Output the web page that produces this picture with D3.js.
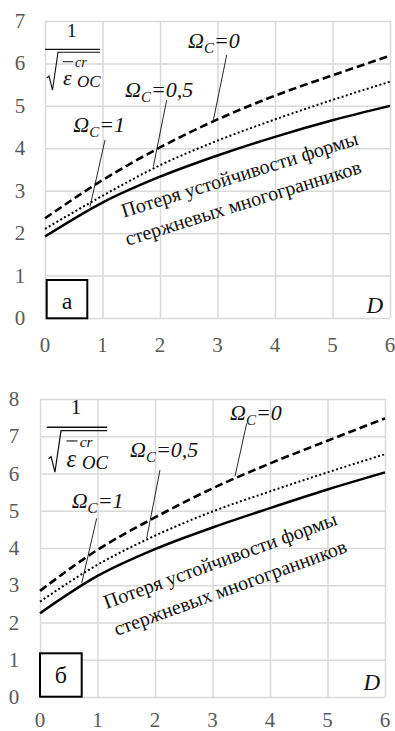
<!DOCTYPE html>
<html><head><meta charset="utf-8">
<script src="https://cdn.jsdelivr.net/npm/d3@7"></script>
</head><body><svg id="c" width="395" height="731"></svg>
<script>
// ---- data ----
const D_VALUES = [0, 1, 2, 3, 4, 5, 6];
const X_TICKS = [0, 1, 2, 3, 4, 5, 6];
const A_Y_TICKS = [0, 1, 2, 3, 4, 5, 6, 7];
const B_Y_TICKS = [0, 1, 2, 3, 4, 5, 6, 7, 8];
// panel а
const A_OMEGA_0  = [2.35, 3.25, 4.02, 4.68, 5.24, 5.72, 6.18];
const A_OMEGA_05 = [2.10, 2.88, 3.60, 4.18, 4.68, 5.14, 5.57];
const A_OMEGA_1  = [1.92, 2.72, 3.33, 3.83, 4.27, 4.66, 5.00];
// panel б
const B_OMEGA_0  = [2.85, 3.95, 4.82, 5.60, 6.27, 6.88, 7.48];
const B_OMEGA_05 = [2.56, 3.55, 4.33, 4.98, 5.52, 6.03, 6.52];
const B_OMEGA_1  = [2.25, 3.25, 3.97, 4.55, 5.07, 5.57, 6.03];
const SERIES_SUFFIX = ["=0", "=0,5", "=1"];
const PANEL_LETTERS = ["а", "б"];
const NOTE_LINES = ["Потеря устойчивости формы", "стержневых многогранников"];
const X_TITLE = "D";

document.body.style.margin = "0";
document.getElementById("c").style.display = "block";
const FONT = "Times New Roman";
const svg = d3.select("#c");
const shapes = svg.append("g");

// every text is a direct child of the svg root
function txt(size, italic) {
  const t = svg.append("text").attr("font-family", FONT).attr("font-size", size);
  t.node().style.fontFamily = "'Times New Roman', 'Liberation Serif'";
  if (italic) t.attr("font-style", "italic");
  return t;
}

function omegaLabel(xp, yp, suffix) {
  const t = txt(22, true).attr("x", xp).attr("y", yp).attr("fill", "#111");
  t.append("tspan").text("Ω");
  t.append("tspan").attr("dy", 5).attr("font-size", 15).text("C");
  t.append("tspan").attr("dy", -5).text(suffix);
}

function fraction(tx, ty, s) {
  const tr = `translate(${tx},${ty}) scale(${s})`;
  const f = shapes.append("g").attr("transform", tr);
  f.append("line").attr("x1", 0).attr("x2", 55).attr("y1", 0).attr("y2", 0).attr("stroke", "#111").attr("stroke-width", 1.3);
  f.append("path").attr("d", "M1.7,28.7 L4,26.7 L7.5,40.7 L13,3 L55,3").attr("fill", "none").attr("stroke", "#111").attr("stroke-width", 1.1);
  f.append("line").attr("x1", 18).attr("x2", 28).attr("y1", 12.4).attr("y2", 12.4).attr("stroke", "#111").attr("stroke-width", 1);
  txt(19, false).attr("transform", tr).attr("x", 26.7).attr("y", -12).attr("text-anchor", "middle").attr("fill", "#111").text("1");
  txt(22, true).attr("transform", tr).attr("x", 18).attr("y", 35.7).attr("fill", "#111").text("ε");
  txt(14, true).attr("transform", tr).attr("x", 30).attr("y", 17.7).attr("fill", "#111").text("cr");
  txt(17, true).attr("transform", tr).attr("x", 32).attr("y", 37.7).attr("fill", "#111").text("OC");
}

function panel(cfg) {
  const g = shapes.append("g");
  const x = d3.scaleLinear().domain([0, 6]).range([cfg.x0, cfg.x1]);
  const y = d3.scaleLinear().domain([0, cfg.yMax]).range([cfg.yBot, cfg.yTop]);

  const xa = g.append("g").attr("transform", `translate(0,${cfg.yBot})`)
    .call(d3.axisBottom(x).tickValues(X_TICKS).tickSize(-(cfg.yBot - cfg.yTop)).tickFormat(""));
  xa.select(".domain").remove();
  xa.selectAll("text").remove();
  xa.selectAll("line").attr("stroke", "#d9d9d9").attr("stroke-width", 1.5);
  const ya = g.append("g").attr("transform", `translate(${cfg.x0},0)`)
    .call(d3.axisLeft(y).tickValues(cfg.yTicks).tickSize(-(cfg.x1 - cfg.x0)).tickFormat(""));
  ya.select(".domain").remove();
  ya.selectAll("text").remove();
  ya.selectAll("line").attr("stroke", "#d9d9d9").attr("stroke-width", 1.5);

  X_TICKS.forEach(v => {
    txt(21, false).attr("x", x(v)).attr("y", cfg.xLabelY).attr("text-anchor", "middle").attr("fill", "#595959").text(v);
  });
  cfg.yTicks.forEach(v => {
    txt(21, false).attr("x", cfg.yLabelX).attr("y", y(v) + 7).attr("text-anchor", "middle").attr("fill", "#595959").text(v);
  });

  const line = d3.line().x((d, i) => x(D_VALUES[i])).y(d => y(d)).curve(d3.curveMonotoneX);
  const series = [
    { vals: cfg.s1, dash: null, w: 2.5 },
    { vals: cfg.s05, dash: "2,2.4", w: 2 },
    { vals: cfg.s0, dash: "8,4", w: 2.6 }
  ];
  g.selectAll(".s").data(series).enter().append("path")
    .attr("d", d => line(d.vals)).attr("fill", "none").attr("stroke", "#000")
    .attr("stroke-width", d => d.w).attr("stroke-dasharray", d => d.dash);

  cfg.labels.forEach((l, i) => {
    g.append("line").attr("x1", l.lx1).attr("y1", l.ly1).attr("x2", l.lx2).attr("y2", l.ly2)
      .attr("stroke", "#111").attr("stroke-width", 0.9);
    omegaLabel(l.tx, l.ty, SERIES_SUFFIX[i]);
  });

  const rt = `translate(${cfg.note.cx},${cfg.note.cy}) rotate(${cfg.note.a})`;
  txt(20, false).attr("transform", rt).attr("x", 0).attr("y", 0).attr("text-anchor", "middle").attr("fill", "#111").text(NOTE_LINES[0]);
  txt(20, false).attr("transform", rt).attr("x", cfg.note.dx2).attr("y", cfg.note.dy2).attr("text-anchor", "middle").attr("fill", "#111").text(NOTE_LINES[1]);

  fraction(cfg.frac.x, cfg.frac.y, cfg.frac.s);

  g.append("rect").attr("x", cfg.box.x).attr("y", cfg.box.y).attr("width", cfg.box.w).attr("height", cfg.box.h)
    .attr("fill", "#fff").attr("stroke", "#000").attr("stroke-width", 2);
  txt(24, false).attr("x", cfg.box.x + cfg.box.w / 2).attr("y", cfg.box.ty).attr("text-anchor", "middle")
    .attr("fill", "#111").text(cfg.letter);

  txt(23, true).attr("x", cfg.dX).attr("y", cfg.dY).attr("text-anchor", "end").attr("fill", "#111").text(X_TITLE);
}

panel({
  x0: 45, x1: 390, yTop: 21, yBot: 318, yMax: 7, yTicks: A_Y_TICKS, yLabelX: 20, xLabelY: 352,
  s0: A_OMEGA_0, s05: A_OMEGA_05, s1: A_OMEGA_1,
  labels: [
    { tx: 188, ty: 48, lx1: 226.7, ly1: 55, lx2: 213.3, ly2: 120.5 },
    { tx: 125, ty: 96.7, lx1: 166.7, ly1: 100, lx2: 153.3, ly2: 166.7 },
    { tx: 73.3, ty: 131.7, lx1: 105, ly1: 140, lx2: 90, ly2: 206.7 }
  ],
  note: { cx: 241.5, cy: 181, a: -17.3, dx2: -5, dy2: 28 },
  frac: { x: 45, y: 49.3, s: 1 },
  box: { x: 46.7, y: 280, w: 40.6, h: 38.3, ty: 309 },
  letter: PANEL_LETTERS[0], dX: 383, dY: 313
});

panel({
  x0: 40, x1: 385, yTop: 399, yBot: 697, yMax: 8, yTicks: B_Y_TICKS, yLabelX: 14, xLabelY: 727,
  s0: B_OMEGA_0, s05: B_OMEGA_05, s1: B_OMEGA_1,
  labels: [
    { tx: 230, ty: 420, lx1: 246.7, ly1: 423.3, lx2: 235, ly2: 476.3 },
    { tx: 130, ty: 456.7, lx1: 160, ly1: 470, lx2: 146.7, ly2: 538.3 },
    { tx: 71.7, ty: 508.3, lx1: 96.7, ly1: 518.3, lx2: 81.7, ly2: 583.3 }
  ],
  note: { cx: 222.5, cy: 566.7, a: -20, dx2: 0, dy2: 29 },
  frac: { x: 46.7, y: 427.3, s: 1.1 },
  box: { x: 40, y: 653.3, w: 41.7, h: 43.4, ty: 683 },
  letter: PANEL_LETTERS[1], dX: 380, dY: 690
});
</script></body></html>
